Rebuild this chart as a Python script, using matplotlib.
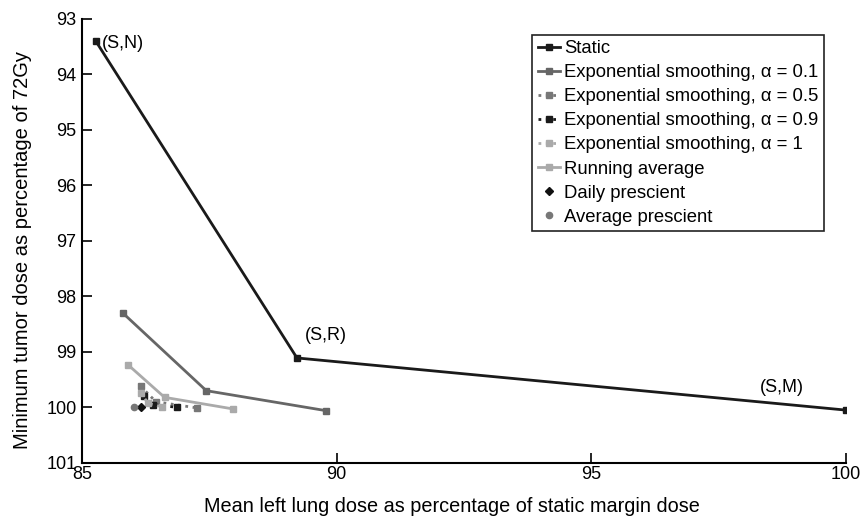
import matplotlib
matplotlib.use("Agg")
import matplotlib.pyplot as plt

plt.rcParams["font.family"] = ["Liberation Sans", "DejaVu Sans"]

# data (x: lung dose %, y: tumor dose %)
static_x = [85.27, 89.22, 100.0]
static_y = [93.40, 99.11, 100.05]
static_labels = ["(S,N)", "(S,R)", "(S,M)"]

exp01_x = [85.80, 87.44, 89.79]
exp01_y = [98.30, 99.70, 100.06]

exp05_x = [86.15, 86.45, 87.25]
exp05_y = [99.62, 99.90, 100.01]

exp09_x = [86.22, 86.40, 86.86]
exp09_y = [99.80, 99.95, 100.00]

exp1_x = [86.15, 86.30, 86.57]
exp1_y = [99.74, 99.93, 99.99]

running_x = [85.91, 86.62, 87.97]
running_y = [99.24, 99.82, 100.03]

daily_x = [86.16]
daily_y = [99.99]

avg_x = [86.02]
avg_y = [100.0]

fig = plt.figure(figsize=(8.64, 5.2), dpi=100)
ax = fig.add_axes([0.095, 0.11, 0.884, 0.8535])

ms = 4
ax.plot(static_x, static_y, "-s", color="#1a1a1a", lw=2, ms=ms, label="Static")
ax.plot(exp01_x, exp01_y, "-s", color="#666666", lw=2, ms=ms,
        label="Exponential smoothing, α = 0.1")
ax.plot(exp05_x, exp05_y, ":s", color="#777777", lw=2, ms=ms,
        label="Exponential smoothing, α = 0.5")
ax.plot(exp09_x, exp09_y, ":s", color="#1a1a1a", lw=2, ms=ms,
        label="Exponential smoothing, α = 0.9")
ax.plot(exp1_x, exp1_y, ":s", color="#aaaaaa", lw=2, ms=ms,
        label="Exponential smoothing, α = 1")
ax.plot(running_x, running_y, "-s", color="#aaaaaa", lw=2, ms=ms, label="Running average")
ax.plot(daily_x, daily_y, "D", color="#111111", ms=4, ls="none", label="Daily prescient")
ax.plot(avg_x, avg_y, "o", color="#777777", ms=4.5, ls="none", label="Average prescient")

# point labels for the static curve
offsets = [(4, -2), (6, 10), (-62, 10)]
for x, y, t, off in zip(static_x, static_y, static_labels, offsets):
    ax.annotate(t, (x, y), xytext=off, textcoords="offset points",
                fontsize=13, ha="left", va="bottom" if off[1] > 0 else "center")

ax.set_xlim(85, 100)
ax.set_ylim(101, 93)
ax.set_xticks([85, 90, 95, 100])
ax.set_yticks(range(93, 102))
ax.tick_params(direction="in", length=7, width=1.2, labelsize=13)
ax.tick_params(axis="x", pad=2)
ax.tick_params(axis="y", pad=4)
for s in ["top", "right"]:
    ax.spines[s].set_visible(False)
for s in ["left", "bottom"]:
    ax.spines[s].set_linewidth(1.5)

ax.set_xlabel("Mean left lung dose as percentage of static margin dose",
              fontsize=14.3, labelpad=10)
ax.xaxis.set_label_coords(0.484, -0.078)
ax.set_ylabel("Minimum tumor dose as percentage of 72Gy", fontsize=14.5)
ax.yaxis.set_label_coords(-0.066, 0.48)

leg = ax.legend(loc="upper right", bbox_to_anchor=(0.983, 0.985), fontsize=13.3,
                handlelength=1.2, handletextpad=0.2, labelspacing=0.38,
                borderpad=0.3, fancybox=False, framealpha=1, edgecolor="#222222")
leg.get_frame().set_linewidth(1.2)

fig.savefig("out.png", dpi=100)
